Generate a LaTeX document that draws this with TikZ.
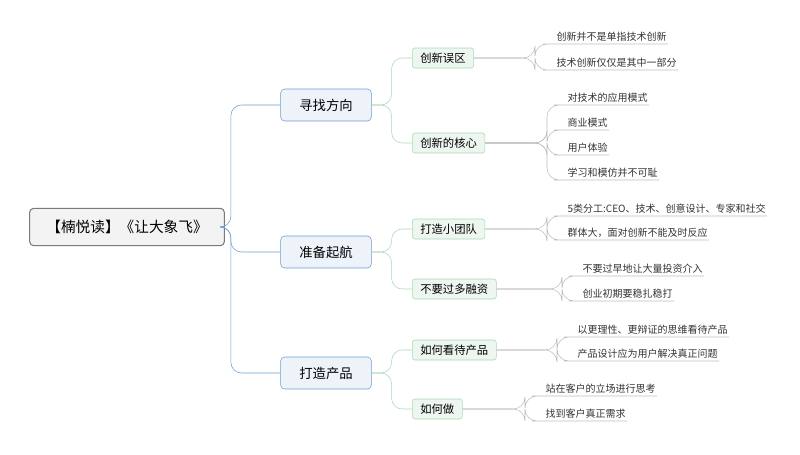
\documentclass[tikz,border=0pt]{standalone}
\usepackage{fontspec}
\setmainfont{Noto Sans CJK SC}
\definecolor{rootline}{HTML}{7A7A7A}
\definecolor{rootfill}{HTML}{F3F3F3}
\definecolor{blueline}{HTML}{6E9BD3}
\definecolor{bluefill}{HTML}{EEF3FA}
\definecolor{greenline}{HTML}{A6D8B4}
\definecolor{greenfill}{HTML}{EEF6F0}
\definecolor{leafline}{HTML}{BDBDBD}
\begin{document}
\begin{tikzpicture}[x=0.75pt,y=-0.75pt,
	rootbox/.style={draw=rootline,fill=rootfill,rounded corners=3pt,minimum width=146pt,minimum height=28pt,font=\fontsize{11}{13}\selectfont,thick},
	topicbox/.style={draw=blueline,fill=bluefill,rounded corners=3pt,minimum width=68pt,minimum height=24pt,font=\fontsize{10}{12}\selectfont},
	subbox/.style={draw=greenline,fill=greenfill,rounded corners=2pt,minimum height=15pt,inner xsep=6pt,font=\fontsize{8.5}{10}\selectfont,anchor=west},
	leaf/.style={anchor=south west,inner xsep=1pt,inner ysep=1.5pt,font=\fontsize{7.5}{9}\selectfont,text=black!80},
	blue link/.style={draw=blueline,rounded corners=8pt},
	green link/.style={draw=greenline,rounded corners=8pt},
	leaf link/.style={draw=leafline,rounded corners=9pt}]
	\useasboundingbox (0,0) rectangle (800,454);
	\node (root)		at (127,227) [rootbox] {【楠悦读】《让大象飞》};
	\node (direction)	at (326,105) [topicbox] {寻找方向};
	\node (launch)		at (326,252) [topicbox] {准备起航};
	\node (product)		at (326,373) [topicbox] {打造产品};

	\node (myth)		at (412,58)  [subbox] {创新误区};
	\node (core)		at (412,143) [subbox] {创新的核心};
	\node (team)		at (412,229) [subbox] {打造小团队};
	\node (funding)		at (412,289) [subbox] {不要过多融资};
	\node (view)		at (412,350) [subbox] {如何看待产品};
	\node (howto)		at (412,409) [subbox] {如何做};

	% leaves
	\node (myth1)		at (555,44)  [leaf] {创新并不是单指技术创新};
	\node (myth2)		at (555,70)  [leaf] {技术创新仅仅是其中一部分};
	\node (core1)		at (566,105) [leaf] {对技术的应用模式};
	\node (core2)		at (566,130) [leaf] {商业模式};
	\node (core3)		at (566,155) [leaf] {用户体验};
	\node (core4)		at (566,180) [leaf] {学习和模仿并不可耻};
	\node (team1)		at (566,216) [leaf] {5类分工:CEO、技术、创意设计、专家和社交};
	\node (team2)		at (566,240) [leaf] {群体大，面对创新不能及时反应};
	\node (funding1)	at (581,276) [leaf] {不要过早地让大量投资介入};
	\node (funding2)	at (581,301) [leaf] {创业初期要稳扎稳打};
	\node (view1)		at (576,337) [leaf] {以更理性、更辩证的思维看待产品};
	\node (view2)		at (576,361) [leaf] {产品设计应为用户解决真正问题};
	\node (howto1)		at (544,396) [leaf] {站在客户的立场进行思考};
	\node (howto2)		at (544,421) [leaf] {找到客户真正需求};

	\foreach \t in {direction,launch,product}
		\path[blue link] (root.east) -- ++(6,0) |- (\t.west);
	\foreach \t/\s in {direction/myth,direction/core,launch/team,launch/funding,product/view,product/howto}
		\path[green link] (\t.east) -- ++(20,0) |- (\s.west);

	\foreach \s/\l/\f in {myth/myth1/535,myth/myth2/535,core/core1/547,core/core2/547,core/core3/547,core/core4/547,
		team/team1/547,team/team2/547,funding/funding1/562,funding/funding2/562,
		view/view1/557,view/view2/557,howto/howto1/525,howto/howto2/525}
		\path[leaf link] (\s.east) -- (\f,0 |- \s.east) |- (\l.south west) -- (\l.south east);
\end{tikzpicture}
\end{document}
